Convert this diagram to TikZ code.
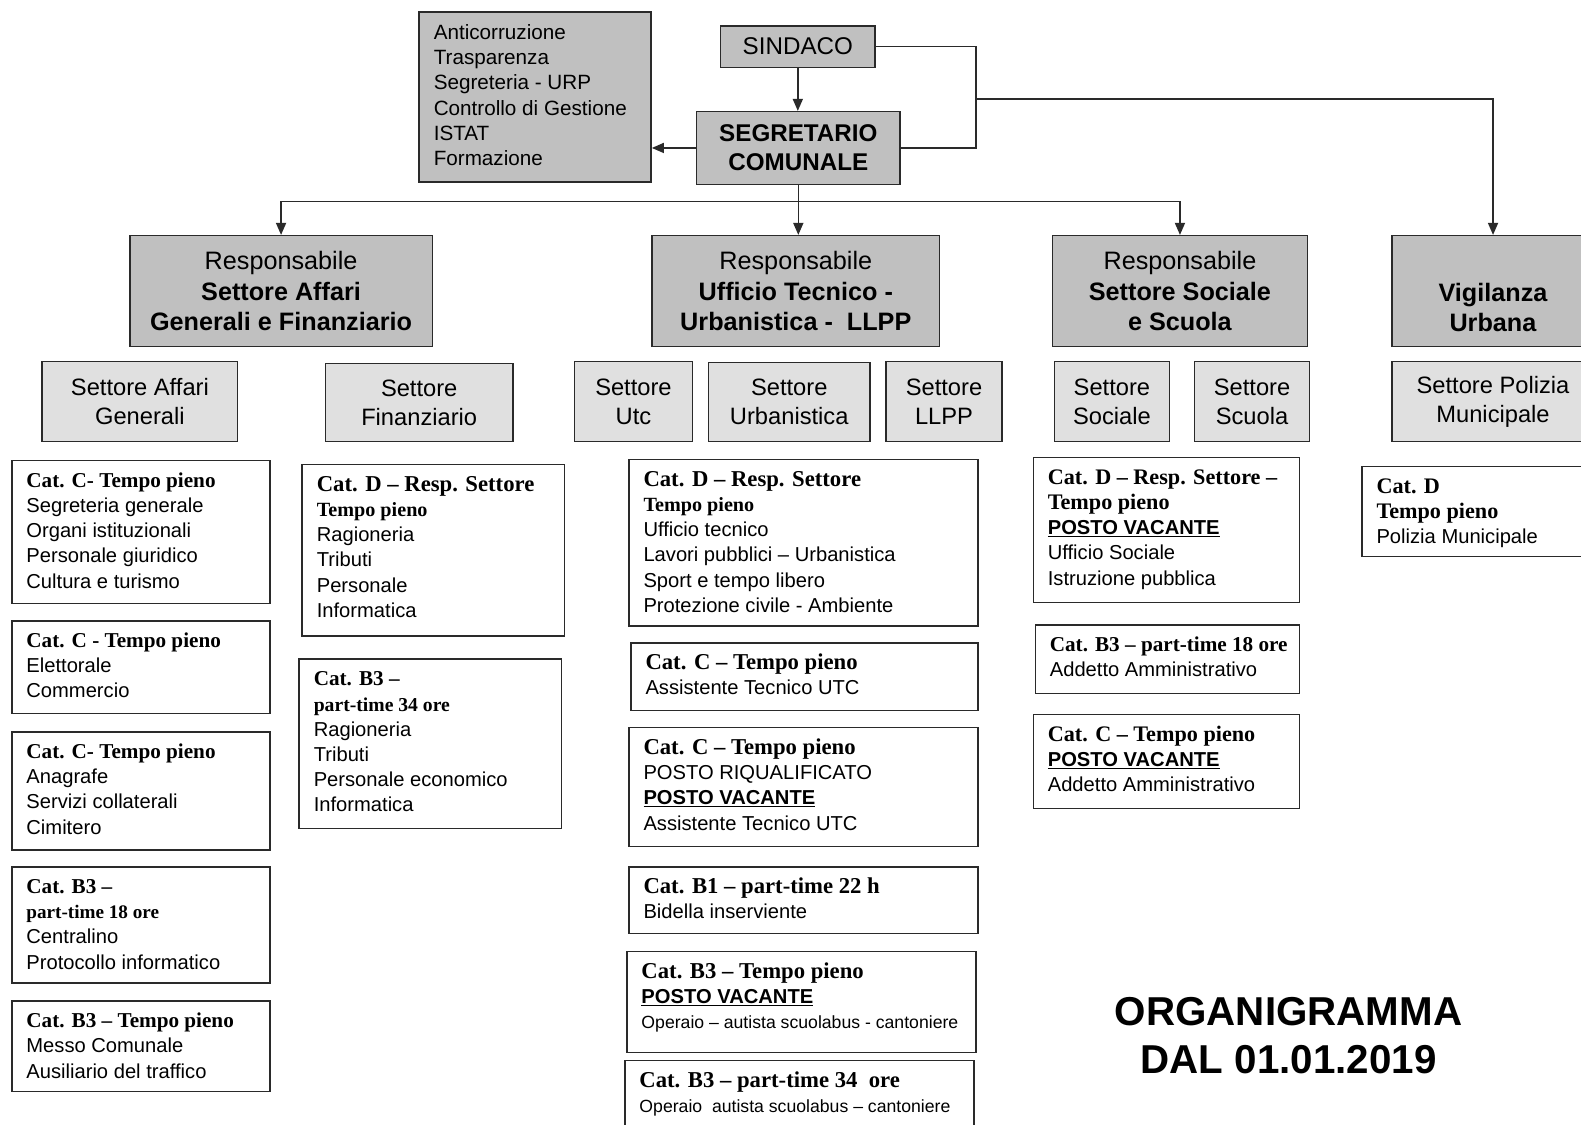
\documentclass[tikz,border=0pt]{standalone}
\usepackage{fontspec}
\setmainfont{Liberation Sans}
\newfontfamily\hdserif{Liberation Serif}
\usetikzlibrary{arrows.meta}

\definecolor{darkfill}{HTML}{C0C0C0}
\definecolor{lightfill}{HTML}{E0E0E0}
\definecolor{edgecol}{HTML}{2A2A2A}

\newcommand{\hdr}[2][21]{{\hdserif\bfseries\fontsize{#1}{25}\selectfont #2}}
\newcommand{\vac}{{\bfseries\underline{POSTO VACANTE}}}
\newcommand{\smalltxt}[1]{{\fontsize{17.5}{25}\selectfont #1}}

\tikzset{
  box/.style={draw=edgecol, line width=1.5pt, rectangle, inner sep=0pt, anchor=north west},
  topbox/.style={box, fill=darkfill, align=center},
  lonebox/.style={box, fill=darkfill, align=center, font=\fontsize{25}{30}\selectfont},
  ltwobox/.style={box, fill=lightfill, align=center, font=\fontsize{23.5}{29}\selectfont},
  cbox/.style={box, fill=white},
  ctext/.style={anchor=north west, inner sep=0pt, align=left, font=\fontsize{20}{25}\selectfont},
  arr/.style={draw=edgecol, line width=1.5pt, -{Triangle[length=12pt,width=10pt]}},
  conn/.style={draw=edgecol, line width=1.5pt},
}

\newcommand{\catbox}[6]{%
  \node[cbox, minimum width=#4pt, minimum height=#5pt] (#1) at (#2,#3) {};
  \node[ctext] (#1t) at (#2+15,#3+9.5) {\strut#6};
}

\begin{document}
\begin{tikzpicture}[x=1pt,y=-1pt]
\path[use as bounding box] (0,0) rectangle (1568,1115);
\clip (0,0) rectangle (1568,1115);
\fill[white] (0,0) rectangle (1568,1115);

% ---------- top ----------
\node[topbox, minimum width=230pt, minimum height=169pt] (func) at (415,11) {};
\node[ctext, font=\fontsize{20.5}{25}\selectfont] (funct) at (430,21.5)
  {\strut Anticorruzione\\Trasparenza\\Segreteria - URP\\Controllo di Gestione\\ISTAT\\Formazione};

\node[topbox, minimum width=153pt, minimum height=41pt, font=\fontsize{24}{29}\selectfont] (sind) at (714,25) {SINDACO};
\node[topbox, minimum width=202pt, minimum height=72pt, font=\bfseries\fontsize{24}{29}\selectfont] (segr) at (690,110) {SEGRETARIO\\COMUNALE};

% ---------- level 1 ----------
\node[lonebox, minimum width=300pt, minimum height=110pt] (aff) at (128,233)
  {Responsabile\\\textbf{Settore Affari}\\\textbf{Generali e Finanziario}};
\node[lonebox, minimum width=285pt, minimum height=110pt] (utc) at (646,233)
  {Responsabile\\\textbf{Ufficio Tecnico -}\\\textbf{Urbanistica -\ \ LLPP}};
\node[lonebox, minimum width=253pt, minimum height=110pt] (soc) at (1043,233)
  {Responsabile\\\textbf{Settore Sociale}\\\textbf{e Scuola}};
\node[lonebox, minimum width=200pt, minimum height=110pt] (vig) at (1380,233)
  {\strut\\\textbf{Vigilanza}\\\textbf{Urbana}};

% ---------- level 2 ----------
\node[ltwobox, minimum width=194pt, minimum height=79pt] (sag) at (41,358) {Settore Affari\\Generali};
\node[ltwobox, minimum width=186pt, minimum height=77pt] (sfin) at (322,360) {Settore\\Finanziario};
\node[ltwobox, minimum width=117pt, minimum height=79pt] (sutc) at (569,358) {Settore\\Utc};
\node[ltwobox, minimum width=160pt, minimum height=78pt] (surb) at (702,359) {Settore\\Urbanistica};
\node[ltwobox, minimum width=115pt, minimum height=79pt] (sllpp) at (878,358) {Settore\\LLPP};
\node[ltwobox, minimum width=114pt, minimum height=79pt] (ssoc) at (1045,358) {Settore\\Sociale};
\node[ltwobox, minimum width=114pt, minimum height=79pt] (sscu) at (1184,358) {Settore\\Scuola};
\node[ltwobox, minimum width=200pt, minimum height=79pt] (spol) at (1380,358) {Settore Polizia\\Municipale};

% ---------- level 3: Affari Generali ----------
\catbox{bA}{11}{456}{256}{142}{\hdr{Cat. C- Tempo pieno}\\Segreteria generale\\Organi istituzionali\\Personale giuridico\\Cultura e turismo}
\catbox{bB}{11}{615}{256}{92}{\hdr{Cat. C - Tempo pieno}\\Elettorale\\Commercio}
\catbox{bC}{11}{725}{256}{117}{\hdr{Cat. C- Tempo pieno}\\Anagrafe\\Servizi collaterali\\Cimitero}
\catbox{bD}{11}{859}{256}{115}{\hdr{Cat. B3 –}\\\hdr[19]{part-time 18 ore}\\Centralino\\Protocollo informatico}
\catbox{bE}{11}{992}{256}{90}{\hdr{Cat. B3 – Tempo pieno}\\Messo Comunale\\Ausiliario del traffico}

% ---------- Finanziario ----------
\catbox{fA}{299}{460}{260}{170}{\hdr[22.5]{Cat. D – Resp. Settore}\\\hdr[20]{Tempo pieno}\\Ragioneria\\Tributi\\Personale\\Informatica}
\catbox{fB}{296}{653}{260}{168}{\hdr{Cat. B3 –}\\\hdr[19.5]{part-time 34 ore}\\Ragioneria\\Tributi\\Personale economico\\Informatica}

% ---------- UTC ----------
\catbox{uA}{623}{455}{346}{165}{\hdr[22.5]{Cat. D – Resp. Settore}\\\hdr[20]{Tempo pieno}\\Ufficio tecnico\\Lavori pubblici – Urbanistica\\Sport e tempo libero\\Protezione civile - Ambiente}
\catbox{uB}{625}{637}{344}{67}{\hdr[22.5]{Cat. C – Tempo pieno}\\Assistente Tecnico UTC}
\catbox{uC}{623}{721}{346}{118}{\hdr[22.5]{Cat. C – Tempo pieno}\\POSTO RIQUALIFICATO\\\vac\\Assistente Tecnico UTC}
\catbox{uD}{623}{859}{346}{66}{\hdr[22.5]{Cat. B1 – part-time 22 h}\\Bidella inserviente}
\catbox{uE}{621}{943}{346}{100}{\hdr[22.5]{Cat. B3 – Tempo pieno}\\\vac\\\smalltxt{Operaio – autista scuolabus - cantoniere}}
\catbox{uF}{619}{1051}{346}{90}{\hdr[22.5]{Cat. B3 – part-time 34\ \ ore}\\\smalltxt{Operaio\ \ autista scuolabus – cantoniere}}

% ---------- Sociale ----------
\catbox{sA}{1024}{453}{264}{144}{\hdr[22]{Cat. D – Resp. Settore –}\\\hdr[22]{Tempo pieno}\\\vac\\Ufficio Sociale\\Istruzione pubblica}
\catbox{sB}{1026}{619}{262}{68}{\hdr{Cat. B3 – part-time 18 ore}\\Addetto Amministrativo}
\catbox{sC}{1024}{708}{264}{93}{\hdr[22]{Cat. C – Tempo pieno}\\\vac\\Addetto Amministrativo}

% ---------- Vigilanza ----------
\catbox{vA}{1350}{462}{230}{89}{\hdr[22]{Cat. D}\\\hdr[22]{Tempo pieno}\\Polizia Municipale}

% ---------- title ----------
\node[align=center, inner sep=0pt, font=\bfseries\fontsize{40}{47}\selectfont] (title) at (1278,1027) {ORGANIGRAMMA\\DAL 01.01.2019};

% ---------- connectors ----------
\coordinate (jx) at (968,98);
\coordinate (bus) at (791,200);
\draw[arr] (sind.south) -- (sind.south |- segr.north);
\draw[arr] (segr.west) -- (segr.west -| func.east);
\draw[conn] (sind.east) -- (sind.east -| jx) -- (segr.east -| jx) -- (segr.east);
\draw[arr] (jx) -| (vig.north);
\draw[arr] (segr.south) -- (segr.south |- utc.north);
\draw[arr] (segr.south |- bus) -| (aff.north);
\draw[arr] (segr.south |- bus) -| (soc.north);
\end{tikzpicture}
\end{document}
